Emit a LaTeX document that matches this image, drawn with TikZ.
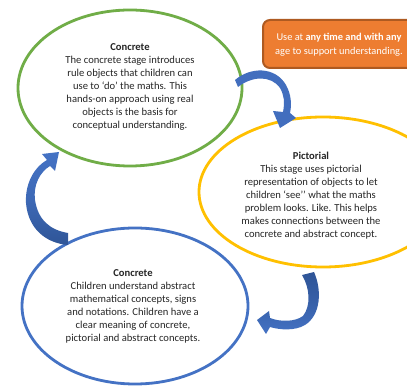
\documentclass[tikz,border=0pt]{standalone}
\usepackage{fontspec}
\setmainfont{Carlito}
\usetikzlibrary{shapes.geometric}
\definecolor{cgreen}{HTML}{70AD47}
\definecolor{cyellow}{HTML}{FFC000}
\definecolor{cblue}{HTML}{4472C4}
\definecolor{cdblue}{HTML}{2F5597}
\definecolor{corange}{HTML}{ED7D31}
\definecolor{cdorange}{HTML}{AE5A21}
\definecolor{ctext}{HTML}{262626}
\begin{document}
\begin{tikzpicture}[x=1pt,y=-1pt,
  stage/.style={draw, ellipse, line width=2.8pt, inner sep=0pt},
  body/.style={align=center, font=\fontsize{10.6}{13}\selectfont, text=ctext, inner sep=0pt},
  notebox/.style={draw=cdorange, fill=corange, line width=2pt, rounded corners=7pt,
    minimum width=160pt, minimum height=48pt},
  notetext/.style={text=white, align=center, inner sep=0pt,
    font=\fontsize{10.4}{14}\selectfont}]
\useasboundingbox (0,0) rectangle (407,387);
\clip (0,0) rectangle (407,387);
\fill[white] (0,0) rectangle (407,387);

% stages
\node[stage, draw=cgreen, minimum width=224pt, minimum height=156pt] (g) at (130,88) {};
\node[body] (gt) at (130,87) {\textbf{Concrete}\\The concrete stage introduces\\rule objects that children can\\use to ‘do’ the maths. This\\hands-on approach using real\\objects is the basis for\\conceptual understanding.};

\node[stage, draw=cyellow, minimum width=248pt, minimum height=150pt] (y) at (323,192) {};
\node[body] (yt) at (311,196) {\textbf{Pictorial}\\This stage uses pictorial\\representation of objects to let\\children ‘see’’ what the maths\\problem looks. Like. This helps\\makes connections between the\\concrete and abstract concept.};

\node[stage, draw=cblue, minimum width=226pt, minimum height=156pt] (b) at (135,306) {};
\node[body] (bt) at (133,306) {\textbf{Concrete}\\Children understand abstract\\mathematical concepts, signs\\and notations. Children have a\\clear meaning of concrete,\\pictorial and abstract concepts.};

% note
\node[notebox] (note) at (343,44) {};
\node[notetext] (notet) at (339,45) {Use at \textbf{any time and with any}\\age to support understanding.};

% curved block arrows
\fill[cblue!88!cdblue]
  (235,80) .. controls (250,67) and (275,66) .. (286,85)
  .. controls (291,94) and (292,104) .. (290,113)
  -- (296,118) -- (280,128) -- (273,111) -- (283,112)
  .. controls (285,102) and (284,95) .. (280,88)
  .. controls (271,75) and (252,76) .. (238,87) -- cycle;

\shade[top color=cdblue, bottom color=cblue, middle color=cdblue!60!cblue]
  (314,272) .. controls (322,290) and (321,315) .. (305,325)
  .. controls (295,331) and (280,330) .. (270,327)
  -- (266,334) -- (257,320) -- (269,311) -- (270,318)
  .. controls (280,322) and (295,322) .. (303,316)
  .. controls (311,306) and (310,288) .. (302,275) -- cycle;

\shade[top color=cblue, bottom color=cdblue, middle color=cblue!70!cdblue]
  (68,245) .. controls (45,243) and (28,228) .. (26,203)
  .. controls (25,185) and (33,168) .. (47,160)
  -- (42,154) -- (59,152) -- (55,171) -- (50,166)
  .. controls (40,172) and (33,185) .. (35,200)
  .. controls (38,220) and (50,230) .. (68,233) -- cycle;
\end{tikzpicture}
\end{document}
